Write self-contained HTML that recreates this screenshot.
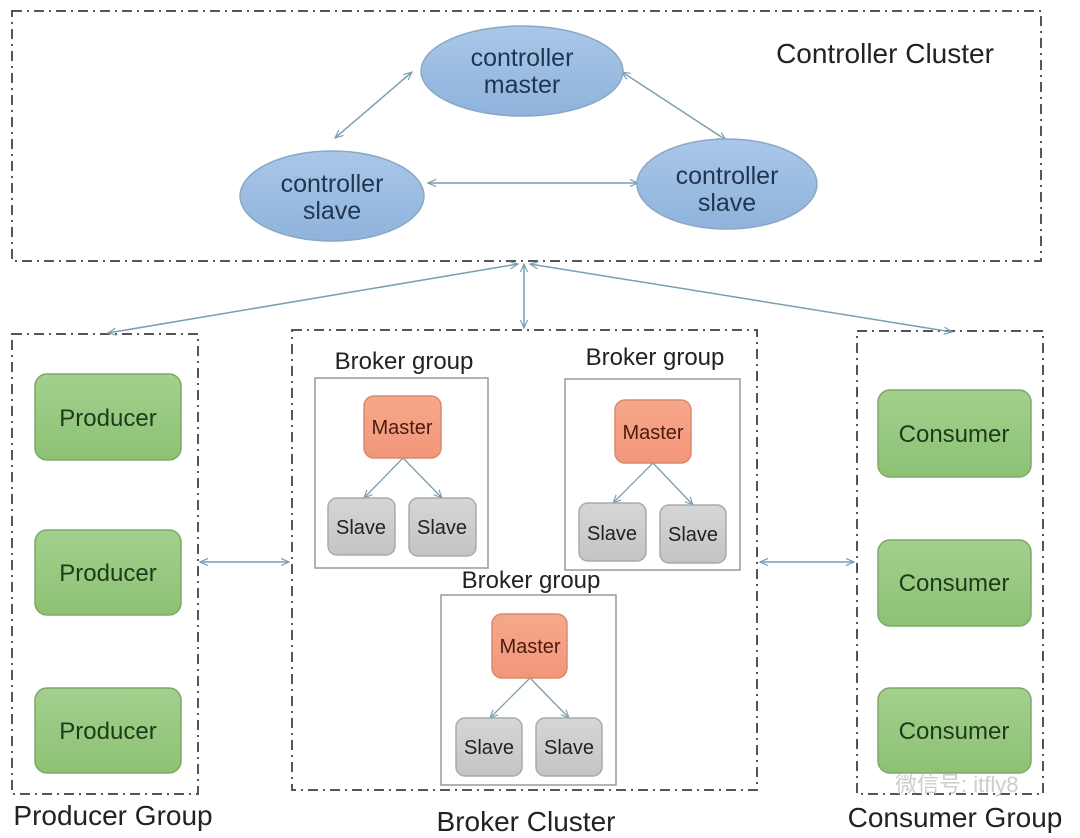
<!DOCTYPE html>
<html><head><meta charset="utf-8"><style>
html,body{margin:0;padding:0;background:#fff;width:1080px;height:838px;overflow:hidden}
text{font-family:"Liberation Sans","Noto Sans CJK SC",sans-serif}
</style></head><body>
<svg width="1080" height="838" viewBox="0 0 1080 838" xmlns="http://www.w3.org/2000/svg">
<defs>
<marker id="a" viewBox="0 0 10 10" refX="9" refY="5" markerWidth="9" markerHeight="9" orient="auto-start-reverse" markerUnits="userSpaceOnUse">
<path d="M0,1 L9,5 L0,9" fill="none" stroke="#7a9fb0" stroke-width="1.3"/></marker>
<linearGradient id="g" x1="0" y1="0" x2="0" y2="1"><stop offset="0" stop-color="#a3d08e"/><stop offset="1" stop-color="#8cc274"/></linearGradient>
<linearGradient id="o" x1="0" y1="0" x2="0" y2="1"><stop offset="0" stop-color="#f7a88a"/><stop offset="1" stop-color="#f2967a"/></linearGradient>
<linearGradient id="s" x1="0" y1="0" x2="0" y2="1"><stop offset="0" stop-color="#d6d6d6"/><stop offset="1" stop-color="#c4c4c4"/></linearGradient>
<linearGradient id="b" x1="0" y1="0" x2="0" y2="1"><stop offset="0" stop-color="#a9c7e8"/><stop offset="1" stop-color="#8fb3dc"/></linearGradient>
</defs>
<g fill="none" stroke="#555" stroke-width="2" stroke-dasharray="10 5 2 5">
<rect x="12" y="11" width="1029" height="250"/>
<rect x="12" y="334" width="186" height="460"/>
<rect x="292" y="330" width="465" height="460"/>
<rect x="857" y="331" width="186" height="463"/>
</g>
<g stroke="#7a9fb0" stroke-width="1.5" fill="none" marker-start="url(#a)" marker-end="url(#a)">
<line x1="335" y1="138" x2="412" y2="72"/>
<line x1="622" y1="72" x2="726" y2="140"/>
<line x1="428" y1="183" x2="638" y2="183"/>
<line x1="518" y1="264" x2="108" y2="333"/>
<line x1="524" y1="264" x2="524" y2="328"/>
<line x1="530" y1="264" x2="952" y2="332"/>
<line x1="200" y1="562" x2="289" y2="562"/>
<line x1="760" y1="562" x2="854" y2="562"/>
</g>
<g stroke="#8aa7c4" stroke-width="1.5" fill="url(#b)">
<ellipse cx="522" cy="71" rx="101" ry="45"/>
<ellipse cx="332" cy="196" rx="92" ry="45"/>
<ellipse cx="727" cy="184" rx="90" ry="45"/>
</g>
<g font-size="25" fill="#1f3550" text-anchor="middle">
<text x="522" y="66">controller</text><text x="522" y="93">master</text>
<text x="332" y="192">controller</text><text x="332" y="219">slave</text>
<text x="727" y="184">controller</text><text x="727" y="211">slave</text>
</g>
<text x="885" y="63" font-size="28" fill="#222" text-anchor="middle">Controller Cluster</text>
<g stroke="#7fa868" stroke-width="1.5" fill="url(#g)">
<rect x="35" y="374" width="146" height="86" rx="12"/>
<rect x="35" y="530" width="146" height="85" rx="12"/>
<rect x="35" y="688" width="146" height="85" rx="12"/>
<rect x="878" y="390" width="153" height="87" rx="12"/>
<rect x="878" y="540" width="153" height="86" rx="12"/>
<rect x="878" y="688" width="153" height="85" rx="12"/>
</g>
<g font-size="24" fill="#1f3a1a" text-anchor="middle">
<text x="108" y="426">Producer</text><text x="108" y="581">Producer</text><text x="108" y="739">Producer</text>
<text x="954" y="442">Consumer</text><text x="954" y="591">Consumer</text><text x="954" y="739">Consumer</text>
</g>
<g fill="none" stroke="#999" stroke-width="1.5">
<rect x="315" y="378" width="173" height="190"/>
<rect x="565" y="379" width="175" height="191"/>
<rect x="441" y="595" width="175" height="190"/>
</g>
<g font-size="24" fill="#222" text-anchor="middle">
<text x="404" y="369">Broker group</text><text x="655" y="365">Broker group</text><text x="531" y="588">Broker group</text>
</g>
<g stroke="#7a9fb0" stroke-width="1.3" fill="none" marker-end="url(#a)">
<line x1="403" y1="458" x2="364" y2="498"/><line x1="403" y1="458" x2="442" y2="498"/>
<line x1="653" y1="463" x2="613" y2="503"/><line x1="653" y1="463" x2="693" y2="505"/>
<line x1="530" y1="678" x2="490" y2="718"/><line x1="530" y1="678" x2="569" y2="718"/>
</g>
<g stroke="#d98a6d" stroke-width="1.5" fill="url(#o)">
<rect x="364" y="396" width="77" height="62" rx="10"/>
<rect x="615" y="400" width="76" height="63" rx="10"/>
<rect x="492" y="614" width="75" height="64" rx="10"/>
</g>
<g font-size="20" fill="#4a1a10" text-anchor="middle">
<text x="402" y="434">Master</text><text x="653" y="439">Master</text><text x="530" y="653">Master</text>
</g>
<g stroke="#aaa" stroke-width="1.5" fill="url(#s)">
<rect x="328" y="498" width="67" height="57" rx="9"/><rect x="409" y="498" width="67" height="58" rx="9"/>
<rect x="579" y="503" width="67" height="58" rx="9"/><rect x="660" y="505" width="66" height="58" rx="9"/>
<rect x="456" y="718" width="66" height="58" rx="9"/><rect x="536" y="718" width="66" height="58" rx="9"/>
</g>
<g font-size="20" fill="#222" text-anchor="middle">
<text x="361" y="534">Slave</text><text x="442" y="534">Slave</text>
<text x="612" y="540">Slave</text><text x="693" y="541">Slave</text>
<text x="489" y="754">Slave</text><text x="569" y="754">Slave</text>
</g>
<g font-size="28" fill="#222" text-anchor="middle">
<text x="113" y="825">Producer Group</text><text x="526" y="831">Broker Cluster</text><text x="955" y="827">Consumer Group</text>
</g>
<text x="895" y="792" font-size="22" fill="#c8c8c8" fill-opacity="0.9">微信号: itfly8</text>
</svg>
</body></html>
